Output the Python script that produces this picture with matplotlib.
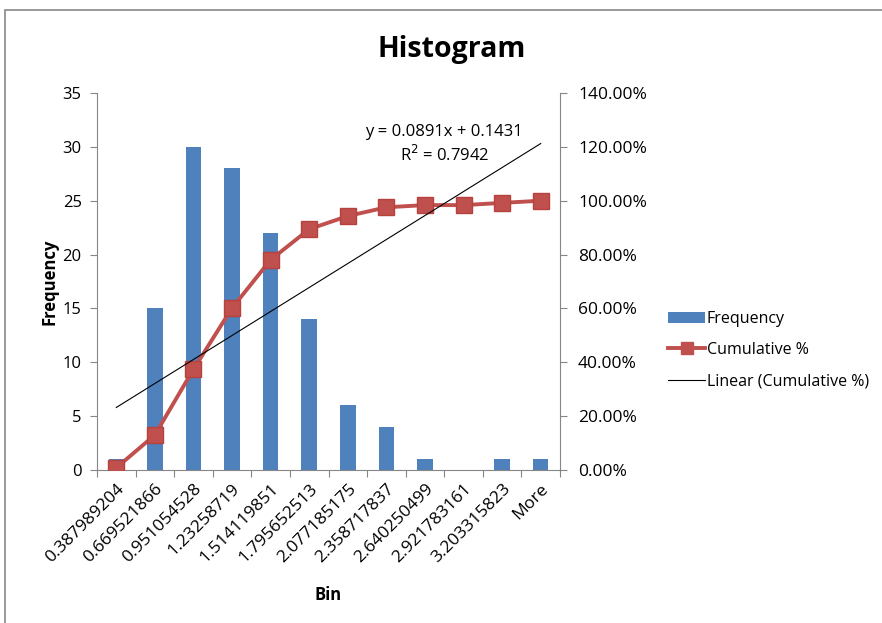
import matplotlib
matplotlib.use("Agg")
import matplotlib.pyplot as plt
import numpy as np
from matplotlib.lines import Line2D
from matplotlib.patches import Patch, Rectangle

bins = ["0.387989204", "0.669521866", "0.951054528", "1.23258719", "1.514119851",
        "1.795652513", "2.077185175", "2.358717837", "2.640250499", "2.921783161",
        "3.203315823", "More"]
frequency = [1, 15, 30, 28, 22, 14, 6, 4, 1, 0, 1, 1]
cumulative_pct = [0.81, 13.01, 37.40, 60.16, 78.05, 89.43, 94.31, 97.56, 98.37, 98.37, 99.19, 100.0]
trend_slope = 0.0891
trend_intercept = 0.1431

plt.rcParams['font.family'] = ['Open Sans', 'DejaVu Sans']

fig = plt.figure(figsize=(8.82, 6.23), dpi=100)
# chart border
fig.patches.append(Rectangle((5/882, -0.1), 1.2, (623-10)/623 + 0.1, transform=fig.transFigure,
                             fill=False, edgecolor="#888888", linewidth=1.2))

ax = fig.add_axes([97/882, 1-470/623, (560-97)/882, (470-93)/623])
x = np.arange(len(bins))
ax.bar(x, frequency, width=0.4, color="#4F81BD", zorder=2)
ax.set_xlim(-0.5, len(bins)-0.5)
ax.set_ylim(0, 35)
ax.set_yticks(range(0, 36, 5))
ax.set_xticks(np.arange(-0.5, len(bins)+0.5, 1), minor=False)
ax.set_xticklabels([])
ax.set_xticks(x, minor=True)
ax.set_xticklabels(bins, minor=True, rotation=45, ha="right", rotation_mode="anchor", fontsize=12.5)
ax.tick_params(axis="x", which="minor", length=0, pad=8)
ax.tick_params(axis="x", which="major", length=5, color="#868686")
ax.tick_params(axis="y", length=5, color="#868686", labelsize=12, pad=6)
for s in ["top", "right"]:
    ax.spines[s].set_visible(False)
for s in ["left", "bottom"]:
    ax.spines[s].set_color("#868686")
ax.set_ylabel("Frequency", fontsize=12, fontweight="bold", labelpad=3)
ax.set_xlabel("Bin", fontsize=12, fontweight="bold", labelpad=14)

ax2 = ax.twinx()
ax2.set_ylim(0, 140)
ax2.set_yticks(range(0, 141, 20))
ax2.set_yticklabels([f"{v:.2f}%" for v in range(0, 141, 20)], fontsize=12.5)
ax2.tick_params(axis="y", length=5, color="#868686", pad=8)
for s in ["top", "left", "bottom"]:
    ax2.spines[s].set_visible(False)
ax2.spines["right"].set_color("#868686")
ax2.plot(x, cumulative_pct, color="#C0504D", linewidth=2.8, marker="s", markersize=11,
         markerfacecolor="#C0504D", markeredgecolor="#B6423F", zorder=3)
trend = [(trend_slope * (i + 1) + trend_intercept) * 100 for i in x]
ax2.plot(x, trend, color="black", linewidth=0.8, zorder=4)
ax2.text(8.5, 121, f"y = {trend_slope}x + {trend_intercept}\nR$^2$ = 0.7942", ha="center", va="center",
         fontsize=12, linespacing=1.3)

fig.text(452/882, 1-50/623, "Histogram", ha="center", va="center", fontsize=20.5, fontweight="bold")

handles = [Patch(facecolor="#4F81BD"),
           Line2D([], [], color="#C0504D", linewidth=2.8, marker="s", markersize=9),
           Line2D([], [], color="black", linewidth=0.8)]
labels = ["Frequency", "Cumulative %", "Linear (Cumulative %)"]
fig.legend(handles, labels, loc="center left", bbox_to_anchor=(654/882, 1-350/623), frameon=False,
           fontsize=11.5, handlelength=2.3, handletextpad=0.1, labelspacing=0.95)

fig.savefig("out.png", dpi=100)
